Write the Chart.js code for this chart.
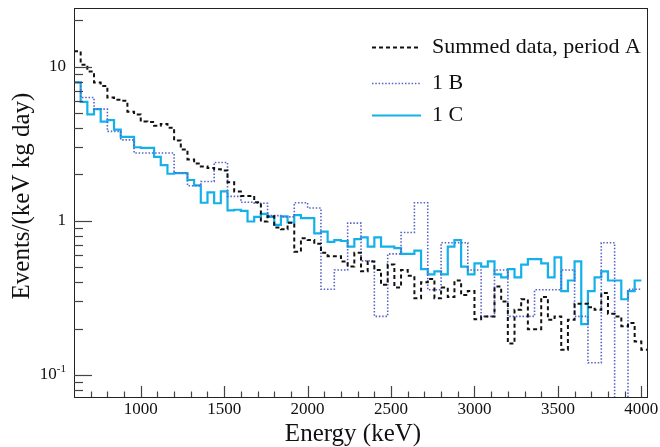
<!DOCTYPE html>
<html>
<head>
<meta charset="utf-8">
<script src="https://cdn.jsdelivr.net/npm/chart.js@4.4.1/dist/chart.umd.min.js"></script>
<style>
  html, body { margin: 0; padding: 0; background: #fff; }
  canvas { display: block; }
</style>
</head>
<body>
<canvas id="c" width="660" height="447"></canvas>
<script>
// histogram binning (keV)
const binStart = 600;
const binWidth = 40;

// events/(keV kg day), one value per 40 keV bin
const summedA = [
  12.6, 10.3, 9.3, 7.9, 7.5, 6.3, 6.1, 6.0, 5.1, 4.9,
  4.4, 4.37, 4.13, 4.25, 4.02, 3.32, 2.9, 2.5, 2.35, 2.25,
  2.2, 2.16, 2.12, 1.78, 1.55, 1.45, 1.45, 1.32, 0.99, 1.07,
  0.905, 0.88, 0.97, 0.63, 0.77, 0.75, 0.71, 0.62, 0.59, 0.59,
  0.545, 0.505, 0.62, 0.47, 0.545, 0.48, 0.385, 0.52, 0.37, 0.48,
  0.44, 0.315, 0.40, 0.42, 0.315, 0.37, 0.32, 0.41, 0.33, 0.35,
  0.23, 0.24, 0.24, 0.375, 0.30, 0.16, 0.265, 0.31, 0.198, 0.198,
  0.32, 0.228, 0.24, 0.146, 0.228, 0.29, 0.29, 0.275, 0.265, 0.34,
  0.25, 0.24, 0.207, 0.217, 0.165, 0.146
];
const run1B = [
  7.9, 6.3, 6.3, 5.3, 5.3, 3.8, 3.8, 3.35, 3.35, 2.75,
  2.75, 2.75, 2.75, 2.75, 2.75, 2.05, 2.05, 1.69, 1.69, 1.80,
  1.80, 2.39, 2.39, 1.44, 1.44, 1.32, 1.32, 1.30, 1.30, 1.08,
  1.08, 1.06, 1.06, 1.31, 1.31, 1.21, 1.21, 0.36, 0.36, 0.48,
  0.48, 0.966, 0.966, 0.55, 0.55, 0.24, 0.24, 0.61, 0.61, 0.84,
  0.84, 1.31, 1.31, 0.357, 0.357, 0.72, 0.72, 0.72, 0.72, 0.48,
  0.48, 0.24, 0.24, 0.48, 0.48, 0.24, 0.24, 0.24, 0.24, 0.357,
  0.357, 0.357, 0.357, 0.48, 0.48, 0.24, 0.24, 0.12, 0.12, 0.72,
  0.72, 0.04, 0.04, 0.36, 0.36, null
];
const run1C = [
  7.9, 5.9, 4.9, 5.3, 4.4, 4.5, 3.9, 3.5, 3.5, 3.0,
  2.97, 2.97, 2.6, 2.3, 2.02, 2.04, 2.04, 1.84, 1.70, 1.31,
  1.53, 1.30, 1.55, 1.17, 1.18, 1.16, 0.99, 1.06, 1.11, 1.06,
  0.94, 1.07, 0.975, 1.09, 1.04, 1.04, 0.83, 0.85, 0.73, 0.75,
  0.74, 0.68, 0.76, 0.78, 0.68, 0.78, 0.68, 0.68, 0.665, 0.61,
  0.61, 0.64, 0.486, 0.45, 0.47, 0.45, 0.68, 0.75, 0.505, 0.45,
  0.53, 0.505, 0.545, 0.45, 0.43, 0.486, 0.43, 0.52, 0.565, 0.565,
  0.53, 0.43, 0.58, 0.35, 0.41, 0.545, 0.214, 0.35, 0.43, 0.47,
  0.41, 0.41, 0.31, 0.35, 0.41, null
];

const seriesNames = ['Summed data, period A', '1 B', '1 C'];
const xTickLabels = [1000, 1500, 2000, 2500, 3000, 3500, 4000];
const yTickLabels = [0.1, 1, 10];

const xMin = 600, xMax = 4040;
const yMin = 0.072, yMax = 24;

const SERIF = '"Liberation Serif", "DejaVu Serif", serif';
const cyan = '#14b0ea';
const dotBlue = '#5763c9';

// turn bin contents into step points (low edges + closing right edge)
function toSteps(values) {
  const pts = [];
  let last = null;
  values.forEach((v, i) => {
    if (v == null) return;
    pts.push({ x: binStart + i * binWidth, y: v });
    last = i;
  });
  if (last !== null) pts.push({ x: binStart + (last + 1) * binWidth, y: values[last] });
  return pts;
}

const styles = [
  { color: '#111', width: 2, dash: [4, 3] },
  { color: dotBlue, width: 1.6, dash: [1.5, 1.8] },
  { color: cyan, width: 2.2, dash: [] }
];

const frame = {
  id: 'rootFrame',
  afterDatasetsDraw(chart) {
    const { ctx, chartArea: a, scales } = chart;
    const xs = scales.x, ys = scales.y;
    ctx.save();

    // frame box
    ctx.strokeStyle = '#222';
    ctx.lineWidth = 1;
    ctx.strokeRect(a.left + 0.5, a.top + 0.5, a.right - a.left - 1, a.bottom - a.top);

    // x ticks (inside, bottom)
    ctx.strokeStyle = '#444';
    ctx.lineWidth = 1.2;
    for (let e = 700; e <= 4000; e += 100) {
      const px = Math.round(xs.getPixelForValue(e)) + 0.5;
      const len = (e % 500 === 0) ? 11 : 5.5;
      ctx.beginPath();
      ctx.moveTo(px, a.bottom);
      ctx.lineTo(px, a.bottom - len);
      ctx.stroke();
    }
    // y ticks (inside, left)
    for (let d = -2; d <= 1; d++) {
      for (let m = 1; m <= 9; m++) {
        const v = m * Math.pow(10, d);
        if (v < yMin || v > yMax) continue;
        const py = Math.round(ys.getPixelForValue(v)) + 0.5;
        const len = m === 1 ? 18 : 9;
        ctx.beginPath();
        ctx.moveTo(a.left, py);
        ctx.lineTo(a.left + len, py);
        ctx.stroke();
      }
    }

    // tick labels
    ctx.fillStyle = '#111';
    ctx.font = '17px ' + SERIF;
    ctx.textAlign = 'center';
    ctx.textBaseline = 'top';
    xTickLabels.forEach(t => {
      ctx.fillText(String(t), xs.getPixelForValue(t), a.bottom + 4);
    });
    ctx.textBaseline = 'middle';
    yTickLabels.forEach(t => {
      const py = ys.getPixelForValue(t);
      const rx = a.left - 8;
      if (t < 1) {
        ctx.font = '11px ' + SERIF;
        ctx.textAlign = 'right';
        const sup = '-1';
        const sw = ctx.measureText(sup).width;
        ctx.fillText(sup, rx, py - 6);
        ctx.font = '17px ' + SERIF;
        ctx.fillText('10', rx - sw, py);
      } else {
        ctx.font = '17px ' + SERIF;
        ctx.textAlign = 'right';
        ctx.fillText(String(t), rx, py);
      }
    });

    // axis titles
    ctx.font = '25px ' + SERIF;
    ctx.textAlign = 'center';
    ctx.textBaseline = 'middle';
    ctx.fillText('Energy (keV)', 353, 434);
    ctx.save();
    ctx.translate(22, 196);
    ctx.rotate(-Math.PI / 2);
    ctx.fillText('Events/(keV kg day)', 0, 0);
    ctx.restore();

    // legend
    const legY = [47, 83, 115];
    ctx.font = '22px ' + SERIF;
    ctx.textAlign = 'left';
    seriesNames.forEach((name, i) => {
      const s = styles[i];
      ctx.strokeStyle = s.color;
      ctx.lineWidth = s.width;
      ctx.setLineDash(s.dash);
      ctx.beginPath();
      ctx.moveTo(372, legY[i] + 0.5);
      ctx.lineTo(421, legY[i] + 0.5);
      ctx.stroke();
      ctx.setLineDash([]);
      ctx.fillStyle = '#111';
      ctx.fillText(name, 432, legY[i]);
    });

    ctx.restore();
  }
};

const datasets = [summedA, run1B, run1C].map((vals, i) => ({
  label: seriesNames[i],
  data: toSteps(vals),
  borderColor: styles[i].color,
  borderWidth: styles[i].width,
  borderDash: styles[i].dash,
  stepped: 'before',
  pointRadius: 0,
  fill: false,
  tension: 0
}));
// draw the cyan on top of the others, dashed over dotted
datasets[0].order = 1;
datasets[1].order = 2;
datasets[2].order = 3;

new Chart(document.getElementById('c'), {
  type: 'line',
  data: { datasets },
  options: {
    responsive: false,
    animation: false,
    devicePixelRatio: 1,
    layout: { padding: { left: 74, right: 12, top: 8, bottom: 50 } },
    plugins: { legend: { display: false }, tooltip: { enabled: false } },
    scales: {
      x: { type: 'linear', min: xMin, max: xMax, display: false },
      y: { type: 'logarithmic', min: yMin, max: yMax, display: false }
    }
  },
  plugins: [frame]
});
</script>
</body>
</html>
